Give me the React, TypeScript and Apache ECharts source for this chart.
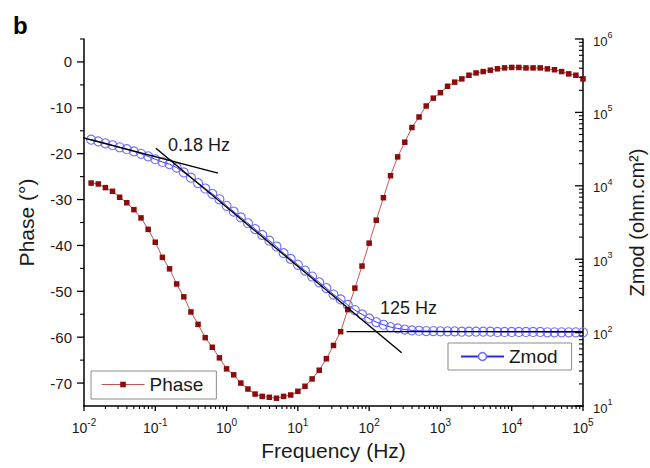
import React, { useEffect, useRef } from "react";
import * as echarts from "echarts";

// Frequency sweep (Hz), 10 points per decade
const frequencies = [
  0.01259, 0.01585, 0.01995, 0.02512, 0.03162, 0.03981, 0.05012, 0.0631, 0.07943, 0.1,
  0.1259, 0.1585, 0.1995, 0.2512, 0.3162, 0.3981, 0.5012, 0.631, 0.7943, 1,
  1.259, 1.585, 1.995, 2.512, 3.162, 3.981, 5.012, 6.31, 7.943, 10,
  12.59, 15.85, 19.95, 25.12, 31.62, 39.81, 50.12, 63.1, 79.43, 100,
  125.9, 158.5, 199.5, 251.2, 316.2, 398.1, 501.2, 631, 794.3, 1000,
  1259, 1585, 1995, 2512, 3162, 3981, 5012, 6310, 7943, 10000,
  12589, 15849, 19953, 25119, 31623, 39811, 50119, 63096, 79433, 100000,
];

// Phase angle (degrees)
const phase = [
  -26.4, -26.6, -27.4, -28.2, -29.5, -30.7, -32.2, -34.0, -36.5, -39.3,
  -42.6, -45.1, -48.4, -51.2, -54.5, -57.2, -60.1, -62.2, -64.5, -66.9,
  -68.2, -70.0, -71.3, -72.4, -72.9, -73.1, -73.3, -72.9, -72.6, -71.8,
  -70.7, -69.1, -67.2, -64.7, -61.8, -58.8, -54.0, -49.3, -44.5, -39.5,
  -34.5, -29.6, -24.8, -20.7, -17.5, -14.3, -12.0, -9.6, -7.9, -6.7,
  -5.3, -4.4, -3.7, -2.9, -2.4, -2.1, -1.8, -1.5, -1.3, -1.2,
  -1.2, -1.3, -1.3, -1.3, -1.5, -1.7, -2.1, -2.6, -2.9, -3.7,
];

// Impedance modulus (ohm.cm2)
const zmod = [
  42500, 40200, 37900, 35700, 33500, 31500, 29400, 27300, 25200, 23000,
  21100, 19700, 17700, 15200, 12900, 10900, 9190, 7780, 6550, 5340,
  4450, 3710, 3090, 2570, 2140, 1790, 1490, 1210, 1010, 839,
  700, 581, 484, 404, 330, 283, 238, 203, 177, 156,
  139, 128, 119, 114, 110, 107, 106, 105, 105, 104,
  104, 104, 103, 103, 103, 103, 103, 102, 102, 102,
  102, 102, 102, 102, 101, 101, 101, 101, 101, 101,
];

// Asymptote construction lines on the |Z| curve
const lowFreqTangent = [[0.0079, 47600], [0.757, 14900]];
const slopeTangent = [[0.102, 32400], [286, 53.2]];
const highFreqTangent = [[48.3, 103], [100000, 103]];

// Axis ticks
const freqDecades = [0.01, 0.1, 1, 10, 100, 1000, 10000, 100000];
const phaseTicks = [-70, -60, -50, -40, -30, -20, -10, 0];
const phaseMinorTicks = [-65, -55, -45, -35, -25, -15, -5, 5];
const zmodDecades = [10, 100, 1000, 10000, 100000, 1000000];
const mantissas = [2, 3, 4, 5, 6, 7, 8, 9];

const minorTicks = (decades: number[]) => {
  const out: number[] = [];
  decades.slice(0, -1).forEach((d) => mantissas.forEach((m) => out.push(+(d * m).toPrecision(3))));
  return out;
};

const FONT = '"Liberation Sans", Arial, Helvetica, sans-serif';
const INK = "#1a1a1a";
const AXIS = "#000";

const powerLabel = (v: number) => `{b|10}{s|${Math.round(Math.log10(v))}}`;

export default function App() {
  const ref = useRef<HTMLDivElement>(null);

  useEffect(() => {
    const chart = echarts.init(ref.current!, null, { renderer: "svg" });

    const tangent = (data: number[][]) => ({
      type: "line",
      xAxisIndex: 0,
      yAxisIndex: 1,
      data,
      symbol: "none",
      silent: true,
      clip: false,
      z: 5,
      lineStyle: { color: "#000", width: 1.4 },
    });

    chart.setOption({
      animation: false,
      backgroundColor: "#fff",
      textStyle: { fontFamily: FONT },
      grid: { left: 84, right: 67, top: 39, bottom: 62, containLabel: false, outerBoundsMode: "none" },
      xAxis: {
        type: "log",
        logBase: 10,
        min: 0.01,
        max: 100000,
        position: "bottom",
        name: "Frequency (Hz)",
        nameLocation: "middle",
        nameGap: 34,
        nameTextStyle: { fontSize: 21, color: INK, fontFamily: FONT },
        axisLine: { show: true, onZero: false, lineStyle: { color: AXIS, width: 1.5 } },
        axisTick: { show: false },
        axisLabel: {
          margin: 11,
          customValues: freqDecades,
          formatter: powerLabel,
          rich: {
            b: { fontSize: 14, fontFamily: FONT, color: INK, lineHeight: 18, verticalAlign: "bottom" },
            s: { fontSize: 10, fontFamily: FONT, color: INK, lineHeight: 10, verticalAlign: "top" },
          },
        },
        splitLine: { show: false },
      },
      yAxis: [
        {
          type: "value",
          min: -75,
          max: 5,
          interval: 5,
          position: "left",
          name: "Phase (°)",
          nameLocation: "middle",
          nameGap: 47,
          nameTextStyle: { fontSize: 21, color: INK, fontFamily: FONT },
          axisLine: { show: true, onZero: false, lineStyle: { color: AXIS, width: 1.5 } },
          axisTick: { show: false },
          axisLabel: { margin: 12, customValues: phaseTicks, fontSize: 15, color: INK, fontFamily: FONT },
          splitLine: { show: false },
        },
        {
          type: "log",
          logBase: 10,
          min: 10,
          max: 1000000,
          position: "right",
          name: "Zmod (ohm.cm²)",
          nameLocation: "middle",
          nameGap: 44,
          nameTextStyle: { fontSize: 20, color: INK, fontFamily: FONT },
          axisLine: { show: true, onZero: false, lineStyle: { color: AXIS, width: 1.5 } },
          axisTick: { show: false },
          axisLabel: {
            margin: 10,
            customValues: zmodDecades,
            formatter: powerLabel,
            rich: {
              b: { fontSize: 13, fontFamily: FONT, color: INK, lineHeight: 17, verticalAlign: "bottom" },
              s: { fontSize: 9, fontFamily: FONT, color: INK, lineHeight: 9, verticalAlign: "top" },
            },
          },
          splitLine: { show: false },
        },
      ],
      legend: [
        {
          data: [{ name: "Phase", itemStyle: { color: "#8a0c0c" }, lineStyle: { color: "#c45555", width: 1 } }],
          left: 91,
          top: 371,
          itemWidth: 43,
          itemHeight: 7,
          padding: [4, 13, 5, 10],
          borderColor: "#8c8c8c",
          borderWidth: 1,
          selectedMode: false,
          textStyle: { fontSize: 19, color: INK, fontFamily: FONT },
        },
        {
          data: [
            {
              name: "Zmod",
              itemStyle: { color: "#fff", borderColor: "#6a6aff", borderWidth: 1.5 },
              lineStyle: { color: "#2a2ae6", width: 2 },
            },
          ],
          left: 448,
          top: 343,
          itemWidth: 43,
          itemHeight: 10,
          padding: [4, 14, 4, 12],
          borderColor: "#8c8c8c",
          borderWidth: 1,
          selectedMode: false,
          textStyle: { fontSize: 19, color: INK, fontFamily: FONT },
        },
      ],
      series: [
        {
          name: "Zmod",
          type: "line",
          xAxisIndex: 0,
          yAxisIndex: 1,
          data: frequencies.map((f, i) => [f, zmod[i]]),
          symbol: "circle",
          symbolSize: 9,
          itemStyle: { color: "rgba(255,255,255,0)", borderColor: "#6f6fff", borderWidth: 1.1 },
          lineStyle: { color: "#3535ff", width: 1 },
          z: 2,
        },
        {
          name: "Phase",
          type: "line",
          xAxisIndex: 0,
          yAxisIndex: 0,
          data: frequencies.map((f, i) => [f, phase[i]]),
          symbol: "rect",
          symbolSize: 5.5,
          itemStyle: { color: "#8a0c0c" },
          lineStyle: { color: "#c45555", width: 1 },
          z: 3,
        },
        tangent(lowFreqTangent),
        tangent(slopeTangent),
        tangent(highFreqTangent),
      ],
    });

    // Tick marks, placed through the axes' own scales (log minor ticks included)
    const xPx = (f: number) => chart.convertToPixel({ xAxisIndex: 0 }, f) as number;
    const phasePx = (p: number) => chart.convertToPixel({ yAxisIndex: 0 }, p) as number;
    const zPx = (z: number) => chart.convertToPixel({ yAxisIndex: 1 }, z) as number;

    const left = xPx(freqDecades[0]);
    const right = xPx(freqDecades[freqDecades.length - 1]);
    const bottom = phasePx(-75);

    const tick = (x1: number, y1: number, x2: number, y2: number, major: boolean) => ({
      type: "line",
      silent: true,
      z: 100,
      shape: { x1, y1, x2, y2 },
      style: { stroke: AXIS, lineWidth: major ? 1.3 : 1.1 },
    });

    const ticks = [
      ...freqDecades.map((f) => tick(xPx(f), bottom, xPx(f), bottom + 5, true)),
      ...minorTicks(freqDecades).map((f) => tick(xPx(f), bottom, xPx(f), bottom + 3, false)),
      ...phaseTicks.map((p) => tick(left, phasePx(p), left - 7, phasePx(p), true)),
      ...phaseMinorTicks.map((p) => tick(left, phasePx(p), left - 4, phasePx(p), false)),
      ...zmodDecades.map((z) => tick(right, zPx(z), right - 8, zPx(z), true)),
      ...minorTicks(zmodDecades).map((z) => tick(right, zPx(z), right - 4, zPx(z), false)),
    ];

    chart.setOption({
      graphic: [
        ...ticks,
        {
          type: "text",
          left: 13,
          top: 13,
          style: { text: "b", fontSize: 24, fontWeight: "bold", fontFamily: FONT, fill: "#000" },
        },
        {
          type: "text",
          x: 168,
          y: 145,
          style: { text: "0.18 Hz", fontSize: 18, fontFamily: FONT, fill: INK, verticalAlign: "middle" },
        },
        {
          type: "text",
          x: 380,
          y: 308,
          style: { text: "125 Hz", fontSize: 18, fontFamily: FONT, fill: INK, verticalAlign: "middle" },
        },
      ],
    });

    return () => chart.dispose();
  }, []);

  return <div ref={ref} style={{ position: "absolute", left: 0, top: 0, width: 650, height: 468 }} />;
}
